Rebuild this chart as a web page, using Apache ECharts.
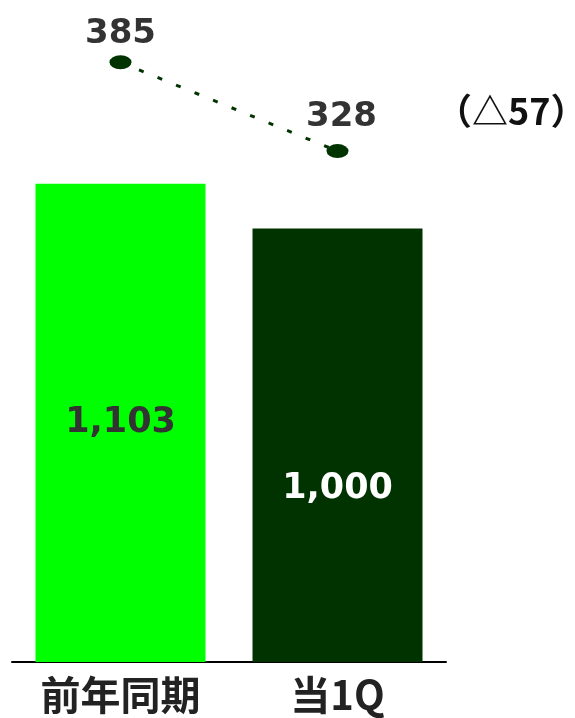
<!DOCTYPE html>
<html>
<head>
<meta charset="utf-8">
<script src="https://cdn.jsdelivr.net/npm/echarts@6/dist/echarts.min.js"></script>
<style>
  html, body { margin: 0; padding: 0; background: #fff; }
  #main { width: 575px; height: 718px; }
</style>
</head>
<body>
<div id="main"></div>
<script>
// chart data
const categories = ['前年同期', '当1Q'];
const barValues = [1103, 1000];
const lineValues = [385, 328];
const barColors = ['#00ff00', '#003300'];

const chart = echarts.init(document.getElementById('main'));
const diff = lineValues[0] - lineValues[1];
const numFont = 'DejaVu Sans';

const option = {
  animation: false,
  grid: { left: 12, right: 129, top: 0, bottom: 56 },
  xAxis: {
    type: 'category',
    data: categories,
    axisTick: { show: false },
    axisLine: { lineStyle: { color: '#000', width: 2 } },
    axisLabel: {
      margin: 13,
      fontFamily: 'Noto Sans CJK JP',
      fontWeight: 'bold',
      fontSize: 40,
      color: '#222'
    }
  },
  yAxis: [
    { type: 'value', min: 0, max: 1527, show: false },
    { type: 'value', min: 0, max: 425, show: false }
  ],
  series: [
    {
      type: 'bar',
      barWidth: 170,
      data: barValues.map((v, i) => ({
        value: v,
        itemStyle: { color: barColors[i] },
        label: i === 0
          ? { color: '#333' }
          : { color: '#fff', offset: [0, 44] }
      })),
      label: {
        show: true,
        position: 'inside',
        fontFamily: numFont,
        fontWeight: 'bold',
        fontSize: 35,
        formatter: p => p.value.toLocaleString('en-US')
      }
    },
    {
      type: 'line',
      yAxisIndex: 1,
      data: lineValues.map((v, i) => ({
        value: v,
        label: i === 0 ? { distance: 4 } : { distance: 10, offset: [4, 0] }
      })),
      symbol: 'circle',
      symbolSize: [22, 14],
      itemStyle: { color: '#003300' },
      lineStyle: { color: '#003300', width: 3, type: [5, 15] },
      label: {
        show: true,
        position: 'top',
        fontFamily: numFont,
        fontWeight: 'bold',
        fontSize: 34,
        color: '#333'
      }
    }
  ],
  graphic: [
    {
      type: 'text',
      left: 436,
      top: 93,
      style: {
        text: '（△' + diff + '）',
        fontFamily: 'Noto Sans CJK JP',
        fontWeight: 'bold',
        fontSize: 36,
        fill: '#111'
      }
    }
  ]
};

chart.setOption(option);
</script>
</body>
</html>
